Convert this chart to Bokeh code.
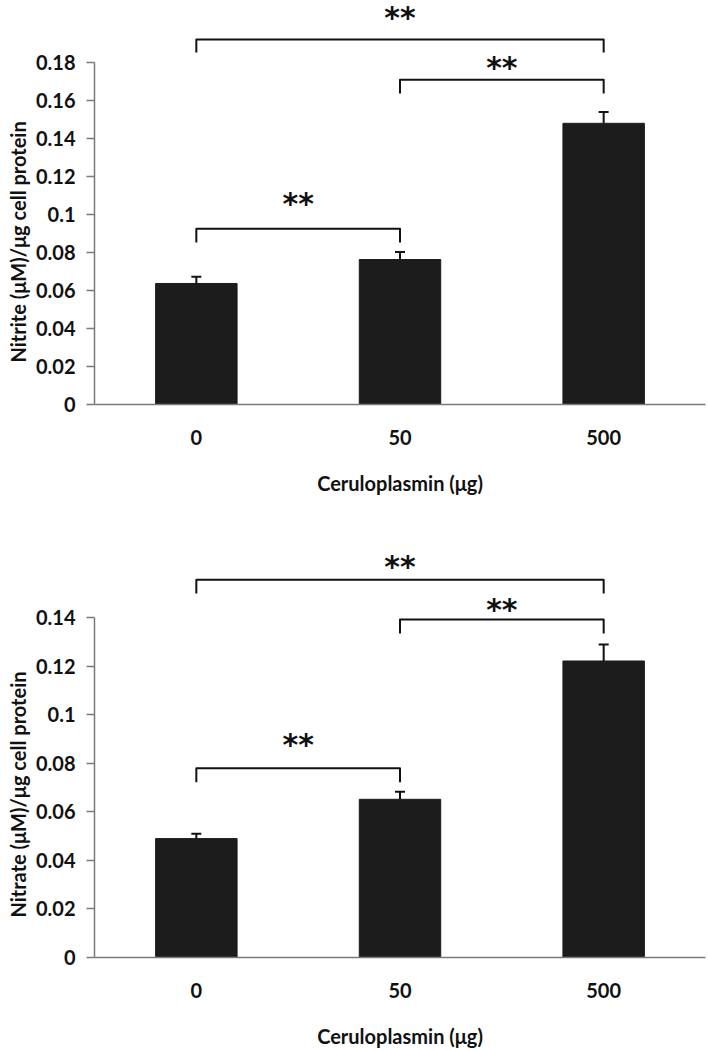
from bokeh.plotting import figure
from bokeh.layouts import column
from bokeh.models import Range1d, FixedTicker, Title
from bokeh.embed import file_html
from bokeh.resources import INLINE
from bokeh.core.properties import value

# ---------------- data ----------------
categories = ["0", "50", "500"]
x_label = "Ceruloplasmin (μg)"

nitrite_mean = [0.0637, 0.0763, 0.148]
nitrite_err = [0.0035, 0.0039, 0.0060]
nitrite_ticks = [0, 0.02, 0.04, 0.06, 0.08, 0.1, 0.12, 0.14, 0.16, 0.18]
nitrite_tick_labels = ["0", "0.02", "0.04", "0.06", "0.08", "0.1", "0.12", "0.14", "0.16", "0.18"]
nitrite_label = "Nitrite (μM)/μg cell protein"
# significance brackets: (from group, to group, bar height, tip height)
nitrite_brackets = [(0, 2, 0.1921, 0.1853), (1, 2, 0.1709, 0.1637), (0, 1, 0.0925, 0.0853)]
nitrite_star_y = [0.2050, 0.1789, 0.1074]

nitrate_mean = [0.0490, 0.0652, 0.1222]
nitrate_err = [0.0020, 0.0031, 0.0068]
nitrate_ticks = [0, 0.02, 0.04, 0.06, 0.08, 0.1, 0.12, 0.14]
nitrate_tick_labels = ["0", "0.02", "0.04", "0.06", "0.08", "0.1", "0.12", "0.14"]
nitrate_label = "Nitrate (μM)/μg cell protein"
nitrate_brackets = [(0, 2, 0.1557, 0.1500), (1, 2, 0.1393, 0.1335), (0, 1, 0.0780, 0.0722)]
nitrate_star_y = [0.1624, 0.1447, 0.0889]
star_text = "**"

FONT = "Lato"
STAR_FONT = "DejaVu Sans"
AXIS_GRAY = "#7a7a7a"
BAR_COLOR = "#1c1c1c"
INK = "#111111"


def make_panel(mean, err, ticks, tick_labels, ylabel, y_end, border_bottom,
               brackets, star_y, label_offset):
    idx = list(range(len(categories)))
    p = figure(width=708, height=525, output_backend="svg", toolbar_location=None,
               x_range=Range1d(-0.5, 2.5), y_range=Range1d(0, y_end),
               min_border_left=94, min_border_right=3, min_border_top=0,
               min_border_bottom=border_bottom)
    p.outline_line_color = None
    p.xgrid.visible = False
    p.ygrid.visible = False
    p.background_fill_color = "white"

    # bars
    p.vbar(x=idx, top=mean, width=0.4, fill_color=BAR_COLOR, line_color=BAR_COLOR)
    # upper error bars
    tops = [m + e for m, e in zip(mean, err)]
    p.segment(x0=idx, y0=mean, x1=idx, y1=tops, line_width=2, line_color=INK)
    p.scatter(x=idx, y=tops, marker="dash", size=10, line_width=2, line_color=INK)

    # significance brackets
    xs, ys, sx = [], [], []
    for a, b, h, t in brackets:
        xs.append([a, a, b, b])
        ys.append([t, h, h, t])
        sx.append((a + b) / 2)
    p.multi_line(xs=xs, ys=ys, line_width=2, line_color=INK, line_join="round")
    p.text(x=sx, y=star_y, text=[star_text] * len(sx), text_align="center",
           text_baseline="alphabetic", y_offset=3, text_font=value(STAR_FONT),
           text_font_style="bold", text_font_size="30px", text_color=INK)

    # y axis
    ya = p.yaxis[0]
    ya.ticker = FixedTicker(ticks=ticks)
    ya.major_label_overrides = {t: l for t, l in zip(ticks, tick_labels)}
    ya.bounds = (0, ticks[-1])
    ya.minor_tick_line_color = None
    ya.major_tick_in = 0
    ya.major_tick_out = 8
    ya.major_tick_line_color = AXIS_GRAY
    ya.major_tick_line_width = 1.5
    ya.axis_line_color = AXIS_GRAY
    ya.axis_line_width = 1.5
    ya.major_label_standoff = 11
    ya.major_label_text_font = FONT
    ya.major_label_text_font_style = "bold"
    ya.major_label_text_font_size = "20px"
    ya.major_label_text_color = INK

    # x axis
    xa = p.xaxis[0]
    xa.ticker = FixedTicker(ticks=idx)
    xa.major_label_overrides = {i: c for i, c in zip(idx, categories)}
    xa.minor_tick_line_color = None
    xa.major_tick_in = 0
    xa.major_tick_out = 0
    xa.axis_line_color = AXIS_GRAY
    xa.axis_line_width = 1.5
    xa.major_label_standoff = 25
    xa.major_label_text_font = FONT
    xa.major_label_text_font_style = "bold"
    xa.major_label_text_font_size = "20px"
    xa.major_label_text_color = INK
    xa.axis_label = x_label
    xa.axis_label_standoff = 23
    xa.axis_label_text_font = FONT
    xa.axis_label_text_font_style = "bold"
    xa.axis_label_text_font_size = "20px"
    xa.axis_label_text_color = INK

    # y label as side title, aligned to the 0..max tick span
    t = Title(text=ylabel, align="left", offset=label_offset, text_font=FONT,
              text_font_style="bold", text_font_size="20px", text_color=INK,
              standoff=5)
    p.add_layout(t, "left")
    return p


p1 = make_panel(nitrite_mean, nitrite_err, nitrite_ticks, nitrite_tick_labels,
                nitrite_label, 0.21263, 121, nitrite_brackets, nitrite_star_y, 42)
p2 = make_panel(nitrate_mean, nitrate_err, nitrate_ticks, nitrate_tick_labels,
                nitrate_label, 0.17804, 92, nitrate_brackets, nitrate_star_y, 40)

layout = column(p1, p2, spacing=0)
layout.styles = {"position": "absolute", "left": "0px", "top": "0px"}

open("out.html", "w").write(file_html(layout, INLINE))
